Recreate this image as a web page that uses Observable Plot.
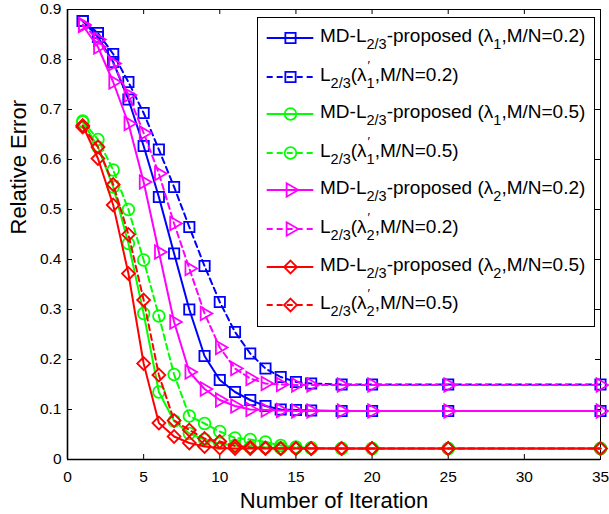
<!DOCTYPE html>
<html>
<head>
<meta charset="utf-8">
<script src="https://cdn.jsdelivr.net/npm/d3@7"></script>
<script src="https://cdn.jsdelivr.net/npm/@observablehq/plot@0.6"></script>
<style>
  body { margin: 0; background: #fff; font-family: "Liberation Sans", Arial, Helvetica, sans-serif; }
  #wrap { position: relative; width: 609px; height: 514px; }
  #legend { position: absolute; left: 257px; top: 17px; width: 338px; height: 310px; box-sizing: border-box;
            border: 1px solid #000; background: #fff; }
  .row { position: absolute; left: 0; right: 0; height: 30px; }
  .row svg { position: absolute; left: 0; top: 0; }
  .row .txt { position: absolute; left: 62px; top: -2px; font-size: 19px; line-height: 30px; white-space: nowrap; color: #000; }
  .sb { position: relative; top: 7px; font-size: 14.5px; }
  .ps { position: relative; top: 7px; font-size: 14.5px; }
  .pr { position: absolute; left: 1px; top: -16px; font-size: 13px; line-height: 13px; }
</style>
</head>
<body>
<div id="wrap">
  <div id="chart"></div>
  <div id="legend"></div>
</div>
<script>
// ---- data ----
const iterations = [1, 2, 3, 4, 5, 6, 7, 8, 9, 10, 11, 12, 13, 14, 15, 16, 18, 20, 25, 35];

const mdLam1_02  = [0.877, 0.845, 0.795, 0.720, 0.627, 0.525, 0.412, 0.300, 0.207, 0.159, 0.135, 0.119, 0.107, 0.100, 0.099, 0.098, 0.097, 0.097, 0.097, 0.097];
const lLam1_02   = [0.877, 0.853, 0.811, 0.755, 0.693, 0.620, 0.545, 0.465, 0.387, 0.315, 0.255, 0.212, 0.182, 0.165, 0.155, 0.152, 0.150, 0.150, 0.150, 0.150];
const mdLam1_05  = [0.675, 0.625, 0.545, 0.432, 0.292, 0.135, 0.077, 0.052, 0.040, 0.032, 0.028, 0.025, 0.024, 0.023, 0.023, 0.023, 0.022, 0.022, 0.022, 0.022];
const lLam1_05   = [0.677, 0.640, 0.579, 0.500, 0.399, 0.287, 0.170, 0.087, 0.072, 0.056, 0.043, 0.040, 0.035, 0.028, 0.025, 0.023, 0.022, 0.022, 0.022, 0.022];
const mdLam2_02  = [0.868, 0.825, 0.755, 0.672, 0.555, 0.415, 0.275, 0.175, 0.141, 0.119, 0.107, 0.100, 0.099, 0.098, 0.097, 0.097, 0.097, 0.097, 0.097, 0.097];
const lLam2_02   = [0.870, 0.840, 0.792, 0.729, 0.653, 0.572, 0.472, 0.382, 0.292, 0.224, 0.182, 0.162, 0.152, 0.150, 0.149, 0.149, 0.149, 0.149, 0.149, 0.149];
const mdLam2_05  = [0.668, 0.602, 0.509, 0.372, 0.192, 0.073, 0.046, 0.033, 0.026, 0.023, 0.022, 0.022, 0.022, 0.022, 0.022, 0.022, 0.022, 0.022, 0.022, 0.022];
const lLam2_05   = [0.665, 0.625, 0.550, 0.450, 0.319, 0.169, 0.078, 0.059, 0.042, 0.036, 0.027, 0.024, 0.023, 0.022, 0.022, 0.022, 0.022, 0.022, 0.022, 0.022];

const xTicks = [0, 5, 10, 15, 20, 25, 30, 35];
const yTicks = [0, 0.1, 0.2, 0.3, 0.4, 0.5, 0.6, 0.7, 0.8, 0.9];
const xTitle = "Number of Iteration";
const yTitle = "Relative Error";

// right-pointing triangle symbol
const triRight = {
  draw(ctx, size) {
    const t = Math.sqrt(size / (3 * Math.sqrt(3)));
    ctx.moveTo(2 * t, 0);
    ctx.lineTo(-t, Math.sqrt(3) * t);
    ctx.lineTo(-t, -Math.sqrt(3) * t);
    ctx.closePath();
  }
};

// series definitions (labels: method, lambda index, primed, ratio)
const series = [
  {values: mdLam1_02, method: "MD", lam: "1", primed: false, ratio: "0.2", color: "#0000ff", dash: null,  symbol: "square",   r: 5.8},
  {values: lLam1_02,  method: "L",  lam: "1", primed: true,  ratio: "0.2", color: "#0000ff", dash: "6,4", symbol: "square",   r: 5.8},
  {values: mdLam1_05, method: "MD", lam: "1", primed: false, ratio: "0.5", color: "#00ff00", dash: null,  symbol: "circle",   r: 5.8},
  {values: lLam1_05,  method: "L",  lam: "1", primed: true,  ratio: "0.5", color: "#00ff00", dash: "6,4", symbol: "circle",   r: 5.8},
  {values: mdLam2_02, method: "MD", lam: "2", primed: false, ratio: "0.2", color: "#ff00ff", dash: null,  symbol: triRight,   r: 5.0},
  {values: lLam2_02,  method: "L",  lam: "2", primed: true,  ratio: "0.2", color: "#ff00ff", dash: "6,4", symbol: triRight,   r: 5.0},
  {values: mdLam2_05, method: "MD", lam: "2", primed: false, ratio: "0.5", color: "#ff0000", dash: null,  symbol: "diamond2", r: 5.8},
  {values: lLam2_05,  method: "L",  lam: "2", primed: true,  ratio: "0.5", color: "#ff0000", dash: "6,4", symbol: "diamond2", r: 5.8}
];

const W = 609, H = 514;
const mL = 67, mR = 9, mT = 9, mB = 55;
const innerW = W - mL - mR, innerH = H - mT - mB;
const tk = 5;

const marks = [];
series.forEach((s) => {
  const rows = iterations.map((x, i) => ({x, y: s.values[i]}));
  marks.push(Plot.line(rows, {x: "x", y: "y", stroke: s.color, strokeWidth: 2,
    strokeDasharray: s.dash || undefined, strokeLinejoin: "round"}));
  marks.push(Plot.dot(rows, {x: "x", y: "y", symbol: s.symbol, r: s.r, stroke: s.color,
    fill: "none", strokeWidth: 1.8}));
});

const chart = Plot.plot({
  width: W, height: H,
  marginLeft: mL, marginRight: mR, marginTop: mT, marginBottom: mB,
  style: {fontFamily: "'Liberation Sans', Arial, Helvetica, sans-serif", fontSize: "15px", color: "#000", background: "#fff", overflow: "visible"},
  x: {domain: [0, 35]},
  y: {domain: [0, 0.9]},
  marks: [
    Plot.frame({stroke: "#000", strokeWidth: 1}),
    // inward ticks, all four sides
    Plot.tickX(xTicks, {x: d => d, insetTop: innerH - tk, stroke: "#000", strokeWidth: 1}),
    Plot.tickX(xTicks, {x: d => d, insetBottom: innerH - tk, stroke: "#000", strokeWidth: 1}),
    Plot.tickY(yTicks, {y: d => d, insetRight: innerW - tk, stroke: "#000", strokeWidth: 1}),
    Plot.tickY(yTicks, {y: d => d, insetLeft: innerW - tk, stroke: "#000", strokeWidth: 1}),
    Plot.axisX(xTicks, {tickSize: 0, tickPadding: 11, fontSize: 15.5, label: null, tickFormat: d => String(d)}),
    Plot.axisY(yTicks, {tickSize: 0, tickPadding: 6, fontSize: 15.5, label: null, tickFormat: d => String(d)}),
    Plot.text([xTitle], {frameAnchor: "bottom", dy: 48, fontSize: 22, lineAnchor: "bottom", fill: "#000"}),
    Plot.text([yTitle], {frameAnchor: "left", dx: -42, rotate: -90, fontSize: 22, lineAnchor: "bottom", fill: "#000"}),
    ...marks,
    Plot.ruleY([0], {stroke: "#000", strokeWidth: 1.6}),
    Plot.ruleX([0], {stroke: "#000", strokeWidth: 1.6})
  ]
});
document.getElementById("chart").appendChild(chart);

// ---- legend ----
const legend = document.getElementById("legend");
const rowCenters = [19.5, 59, 96, 135, 172, 211, 249, 287];
series.forEach((s, k) => {
  const row = document.createElement("div");
  row.className = "row";
  row.style.top = (rowCenters[k] - 15) + "px";
  const svg = d3.create("svg").attr("width", 60).attr("height", 30);
  svg.append("line").attr("x1", 8.7).attr("x2", 55.3).attr("y1", 15).attr("y2", 15)
    .attr("stroke", s.color).attr("stroke-width", 2).attr("stroke-dasharray", s.dash);
  const symType = s.symbol === "square" ? d3.symbolSquare : s.symbol === "circle" ? d3.symbolCircle
    : s.symbol === "diamond2" ? d3.symbolDiamond2 : s.symbol;
  svg.append("path").attr("transform", "translate(32.5,15)")
    .attr("d", d3.symbol(symType, Math.PI * s.r * s.r)())
    .attr("fill", "none").attr("stroke", s.color).attr("stroke-width", 1.8);
  row.appendChild(svg.node());
  const txt = document.createElement("span");
  txt.className = "txt";
  const lamHtml = s.primed
    ? `λ<span class="ps"><span class="pr">′</span>${s.lam}</span>`
    : `λ<span class="sb">${s.lam}</span>`;
  txt.innerHTML = s.method === "MD"
    ? `MD-L<span class="sb">2/3</span>-proposed (${lamHtml},M/N=${s.ratio})`
    : `L<span class="sb">2/3</span>(${lamHtml},M/N=${s.ratio})`;
  row.appendChild(txt);
  legend.appendChild(row);
});
</script>
</body>
</html>
